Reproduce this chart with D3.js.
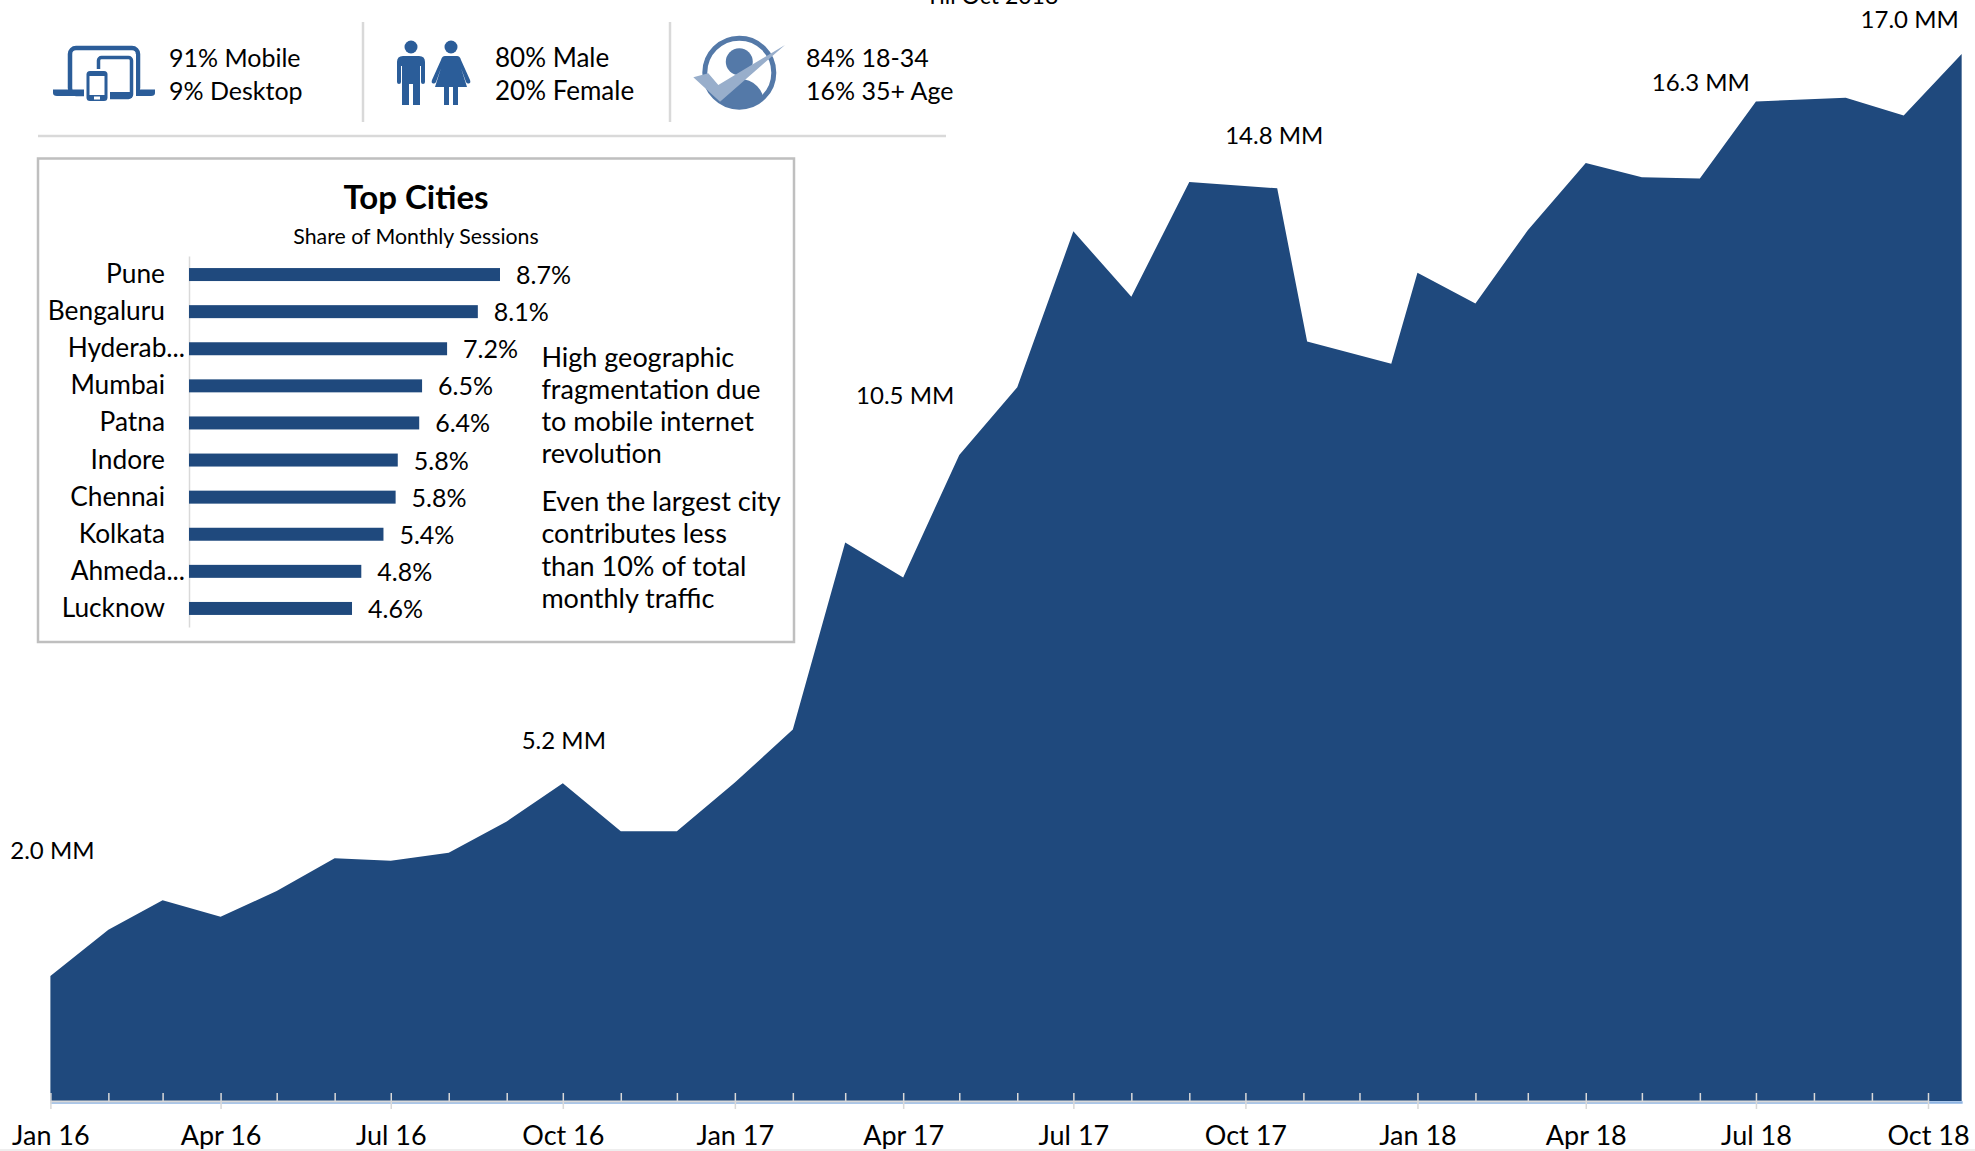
<!DOCTYPE html>
<html>
<head>
<meta charset="utf-8">
<script src="https://cdnjs.cloudflare.com/ajax/libs/d3/7.8.5/d3.min.js"></script>
<style>
  body { margin: 0; background: #fff; }
  svg { display: block; }
  text { font-family: Lato, "Noto Sans", sans-serif; fill: #000; }
</style>
</head>
<body>
<div id="chart"></div>
<script>
// monthly sessions, in MM
const dates = ['2016-01-01', '2016-02-01', '2016-03-01', '2016-04-01', '2016-05-01', '2016-06-01',
    '2016-07-01', '2016-08-01', '2016-09-01', '2016-10-01', '2016-11-01', '2016-12-01',
    '2017-01-01', '2017-02-01', '2017-03-01', '2017-04-01', '2017-05-01', '2017-06-01',
    '2017-07-01', '2017-08-01', '2017-09-01', '2017-10-18', '2017-11-03', '2017-12-18',
    '2018-01-01', '2018-02-01', '2018-03-01', '2018-04-01', '2018-05-01', '2018-06-01',
    '2018-07-01', '2018-08-18', '2018-09-18', '2018-10-19'];
const sessions = [2.03, 2.78, 3.26, 2.99, 3.41, 3.94, 3.90, 4.03, 4.54, 5.16, 4.38, 4.38,
    5.17, 6.03, 9.07, 8.50, 10.49, 11.59, 14.12, 13.06, 14.92, 14.82, 12.33, 11.97,
    13.45, 12.95, 14.14, 15.23, 15.00, 14.98, 16.23, 16.29, 16.00, 17.00];

const calloutDates = ['2016-01-01', '2016-10-01', '2017-04-01', '2017-10-18', '2018-06-01', '2018-09-18'];
const calloutValues = [2.0, 5.2, 10.5, 14.8, 16.3, 17.0];

const cities = ['Pune', 'Bengaluru', 'Hyderab...', 'Mumbai', 'Patna', 'Indore', 'Chennai', 'Kolkata', 'Ahmeda...', 'Lucknow'];
const cityShare = [8.70, 8.08, 7.22, 6.52, 6.44, 5.84, 5.78, 5.44, 4.82, 4.56];

const noteLines = ['High geographic', 'fragmentation due', 'to mobile internet', 'revolution',
    'Even the largest city', 'contributes less', 'than 10% of total', 'monthly traffic'];
const statTexts = [['91% Mobile', '9% Desktop'], ['80% Male', '20% Female'], ['84% 18-34', '16% 35+ Age']];

const fontSize = 25;
const navy = '#1f497d';
const iconBlue = '#2b5d99';
const parseDate = d3.utcParse('%Y-%m-%d');

let svg = d3.select('#chart').append('svg')
    .attr('width', 1975)
    .attr('height', 1151);

let xScale = d3.scaleUtc()
    .domain([parseDate('2016-01-01'), parseDate('2018-10-01')])
    .range([50.4, 1928]);

let yScale = d3.scaleLinear()
    .domain([0, 17])
    .range([1101, 54]);

let area = d3.area()
    .x(d => xScale(parseDate(d.date)))
    .y0(yScale(0))
    .y1(d => yScale(d.value));

// soft edge under the area
svg.append('line')
    .attr('x1', xScale(parseDate('2016-01-01'))).attr('x2', xScale(parseDate(dates[dates.length - 1])) + 1)
    .attr('y1', 1102.5).attr('y2', 1102.5)
    .attr('stroke', '#8db3e2').attr('stroke-width', 2.5);

svg.append('path')
    .datum(dates.map((d, i) => ({date: d, value: sessions[i]})))
    .attr('d', area)
    .attr('fill', navy);

// time axis, a tick a month and a label a quarter
let months = d3.utcMonth.range(parseDate('2016-01-01'), parseDate('2018-10-02'));
let xAxis = svg.append('g')
    .attr('class', 'x-axis')
    .attr('transform', `translate(0, ${yScale(0)})`)
    .call(d3.axisBottom(xScale)
        .tickValues(months)
        .tickSizeOuter(0)
        .tickFormat(d => d.getUTCMonth() % 3 === 0 ? d3.utcFormat('%b %y')(d) : ''));

xAxis.select('.domain').attr('stroke', '#d9d9d9').attr('stroke-width', 2);
xAxis.selectAll('.tick line')
    .attr('stroke', '#d9d9d9')
    .attr('stroke-width', 1.5)
    .attr('y1', -8)
    .attr('y2', d => d.getUTCMonth() % 3 === 0 ? 8 : 0);
xAxis.selectAll('.tick text')
    .attr('y', 0)
    .attr('dy', 44)
    .style('font-family', 'Lato, "Noto Sans", sans-serif')
    .style('font-size', '27px');

svg.append('line')
    .attr('x1', 0).attr('x2', 1975)
    .attr('y1', 1150).attr('y2', 1150)
    .attr('stroke', '#eeeeee').attr('stroke-width', 2);

// callouts, nudged off the point they name
const calloutNudge = [[2, -119], [1, -32], [2, -50], [-3, -45], [1, -6], [6, -26]];
svg.append('g').selectAll('text')
    .data(calloutValues)
    .join('text')
    .attr('x', (d, i) => xScale(parseDate(calloutDates[i])) + calloutNudge[i][0])
    .attr('y', (d, i) => yScale(d) + calloutNudge[i][1])
    .attr('text-anchor', 'middle')
    .style('font-size', '24px')
    .text(d => d.toFixed(1) + ' MM');

svg.append('text')
    .attr('x', 992).attr('y', 4)
    .attr('text-anchor', 'middle')
    .style('font-size', '23px')
    .text('Till Oct 2018');

// top strip
let rules = [[363, 22, 363, 122], [670, 22, 670, 122], [38, 136, 946, 136]];
svg.append('g').selectAll('line')
    .data(rules)
    .join('line')
    .attr('x1', d => d[0]).attr('y1', d => d[1])
    .attr('x2', d => d[2]).attr('y2', d => d[3])
    .attr('stroke', '#d9d9d9')
    .attr('stroke-width', 2.5);

const statX = [169, 495, 806];
statTexts.forEach((lines, i) => {
    lines.forEach((line, j) => {
        svg.append('text')
            .attr('x', statX[i])
            .attr('y', 66.5 + j * 33)
            .style('font-size', i === 1 ? '26px' : fontSize + 'px')
            .text(line);
    });
});

drawDevices(svg.append('g'));
drawPeople(svg.append('g'));
drawAudience(svg.append('g'));

function drawDevices(g) {
    g.append('rect').attr('x', 70).attr('y', 48).attr('width', 68).attr('height', 46).attr('rx', 6)
        .attr('fill', '#fff').attr('stroke', iconBlue).attr('stroke-width', 4.5);
    g.append('path').attr('d', 'M53 89.5H155V93Q155 96 151 96H57Q53 96 53 93Z').attr('fill', iconBlue);
    g.append('rect').attr('x', 95).attr('y', 54).attr('width', 41).attr('height', 47).attr('fill', '#fff');
    g.append('rect').attr('x', 98.5).attr('y', 57.5).attr('width', 33).attr('height', 40).attr('rx', 3)
        .attr('fill', '#fff').attr('stroke', iconBlue).attr('stroke-width', 3.5);
    g.append('rect').attr('x', 98).attr('y', 92).attr('width', 34).attr('height', 6).attr('fill', iconBlue);
    g.append('rect').attr('x', 84).attr('y', 69).attr('width', 26).attr('height', 34).attr('fill', '#fff');
    g.append('rect').attr('x', 86.5).attr('y', 71).attr('width', 21).attr('height', 30).attr('rx', 3.5)
        .attr('fill', iconBlue);
    g.append('rect').attr('x', 89.5).attr('y', 76).attr('width', 15).attr('height', 19).attr('fill', '#fff');
    g.append('rect').attr('x', 94).attr('y', 96.5).attr('width', 6).attr('height', 3).attr('fill', '#fff');
}

function drawPeople(g) {
    g.append('circle').attr('cx', 411).attr('cy', 47).attr('r', 6.5).attr('fill', iconBlue);
    g.append('path')
        .attr('d', 'M403 56H419Q425 56 425 62V82Q425 84 423 84Q421 84 421 82V66H420V105H413V84H409V105H402V66H401V82Q401 84 399 84Q397 84 397 82V62Q397 56 403 56Z')
        .attr('fill', iconBlue);
    g.append('circle').attr('cx', 451).attr('cy', 47).attr('r', 6.5).attr('fill', iconBlue);
    g.append('path')
        .attr('d', 'M445 56H457Q460 56 461 60L470 80Q471 83 469 83.5Q467 84 466 82L461 68L467 87H458V105H453V87H449V105H444V87H435L441 68L436 82Q435 84 433 83.5Q431 83 432 80L441 60Q442 56 445 56Z')
        .attr('fill', iconBlue);
}

function drawAudience(g) {
    const tone = '#5479a8';
    g.append('defs').append('clipPath').attr('id', 'ring')
        .append('circle').attr('cx', 739.3).attr('cy', 72.7).attr('r', 35);
    g.append('circle').attr('cx', 739.3).attr('cy', 72.7).attr('r', 34.5)
        .attr('fill', '#fff').attr('stroke', tone).attr('stroke-width', 5);
    g.append('circle').attr('cx', 739.3).attr('cy', 61.7).attr('r', 13.5).attr('fill', tone);
    g.append('ellipse').attr('cx', 740).attr('cy', 103).attr('rx', 24).attr('ry', 24)
        .attr('clip-path', 'url(#ring)').attr('fill', tone);
    g.append('path').attr('d', 'M693.3 77.3L708.3 73.3L718.3 85L785 45L720 101.7Z').attr('fill', '#98aecb');
}

// top cities panel
svg.append('rect')
    .attr('x', 38).attr('y', 158.5)
    .attr('width', 756).attr('height', 483.5)
    .attr('fill', '#fff')
    .attr('stroke', '#bfbfbf')
    .attr('stroke-width', 2.5);

svg.append('text')
    .attr('x', 416).attr('y', 209)
    .attr('text-anchor', 'middle')
    .style('font-size', '33px')
    .style('font-weight', 700)
    .text('Top Cities');

svg.append('text')
    .attr('x', 416).attr('y', 244)
    .attr('text-anchor', 'middle')
    .style('font-size', '21.3px')
    .text('Share of Monthly Sessions');

let barX = d3.scaleLinear()
    .domain([0, 8.7])
    .range([189, 500]);

let barY = d3.scaleBand()
    .domain(cities)
    .range([256, 627])
    .paddingInner(0.65)
    .paddingOuter(0.325);

let barAxis = svg.append('g')
    .attr('class', 'y-axis')
    .attr('transform', `translate(${barX(0)}, 0)`)
    .call(d3.axisLeft(barY).tickSize(0).tickPadding(24));

barAxis.select('.domain').attr('stroke', '#d9d9d9').attr('stroke-width', 1.5);
barAxis.selectAll('.tick text')
    .attr('dx', d => d.endsWith('...') ? 20 : 0)
    .attr('dy', 8.5)
    .style('font-family', 'Lato, "Noto Sans", sans-serif')
    .style('font-size', '26.3px');

svg.append('g').selectAll('rect')
    .data(cityShare)
    .join('rect')
    .attr('x', barX(0))
    .attr('y', (d, i) => barY(cities[i]))
    .attr('width', d => barX(d) - barX(0))
    .attr('height', barY.bandwidth())
    .attr('fill', navy);

svg.append('g').selectAll('text')
    .data(cityShare)
    .join('text')
    .attr('x', d => barX(d) + 16)
    .attr('y', (d, i) => barY(cities[i]) + barY.bandwidth() / 2 + 9.5)
    .style('font-size', fontSize + 'px')
    .text(d => d.toFixed(1) + '%');

const noteBaselines = [366.5, 398.5, 431, 463, 511, 543, 575.5, 608];
svg.append('g').selectAll('text')
    .data(noteLines)
    .join('text')
    .attr('x', 541.4)
    .attr('y', (d, i) => noteBaselines[i])
    .style('font-size', '27px')
    .text(d => d);
</script>
</body>
</html>
